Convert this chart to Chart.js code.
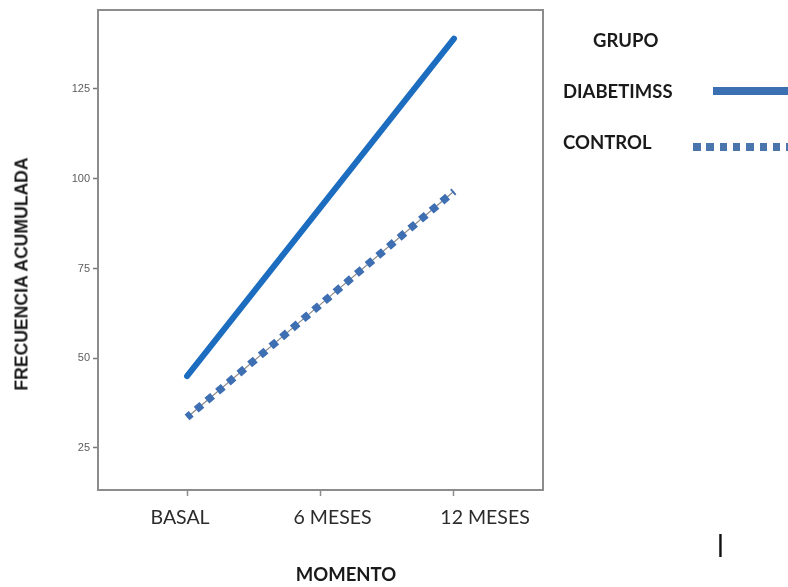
<!DOCTYPE html>
<html>
<head>
<meta charset="utf-8">
<script src="https://cdn.jsdelivr.net/npm/chart.js@4/dist/chart.umd.min.js"></script>
<style>
  html, body { margin: 0; padding: 0; background: #fff; }
  #wrap { position: relative; width: 788px; height: 587px; overflow: hidden; }
  canvas { position: absolute; left: 0; top: 0; }
  .txt { position: absolute; white-space: nowrap; color: #1a1a1a; }
  #ytitle { left: 22px; top: 274px; transform: translate(-50%, -50%) rotate(-90deg);
            font: bold 17.6px "Liberation Sans", Arial, sans-serif; }
  #xtitle { left: 346px; top: 574px; transform: translate(-50%, -50%);
            font: bold 18.5px Lato, "Open Sans", sans-serif; }
  .leg { font: bold 18.5px Lato, "Open Sans", sans-serif; transform: translateY(-50%); }
  #legSolid { position: absolute; left: 713px; top: 87px; width: 75px; height: 8px; background: #3b71b3; }
  #legDot { position: absolute; left: 693px; top: 143px; width: 95px; height: 8px;
            background: repeating-linear-gradient(90deg, #4a75ad 0 7.5px, transparent 7.5px 13.3px); }
  #mark { position: absolute; left: 717px; top: 530px; font: bold 24px "Liberation Sans", sans-serif; color: #111; transform: scaleX(0.8); }
</style>
</head>
<body>
<div id="wrap">
  <canvas id="c" width="788" height="587"></canvas>
  <div class="txt" id="ytitle">FRECUENCIA ACUMULADA</div>
  <div class="txt" id="xtitle">MOMENTO</div>
  <div class="txt leg" style="left:593px; top:40px;">GRUPO</div>
  <div class="txt leg" style="left:563px; top:91px;">DIABETIMSS</div>
  <div class="txt leg" style="left:563px; top:142px;">CONTROL</div>
  <div id="legSolid"></div>
  <div id="legDot"></div>
  <div id="mark">|</div>
</div>
<script>
const categories = ["BASAL", "6 MESES", "12 MESES"];
const diabetimss = [45, 92, 139];
const control = [33.5, 65, 96.5];
const yTicks = [25, 50, 75, 100, 125];

const toPoints = arr => arr.map((v, i) => ({ x: i, y: v }));

const framePlugin = {
  id: 'frame',
  afterDatasetsDraw(chart) {
    const { ctx, chartArea: a } = chart;
    ctx.save();
    ctx.strokeStyle = '#8c8c8c';
    ctx.lineWidth = 2;
    ctx.strokeRect(a.left, a.top, a.right - a.left, a.bottom - a.top);
    ctx.restore();
  }
};

new Chart(document.getElementById('c'), {
  type: 'line',
  data: {
    datasets: [
      {
        label: 'DIABETIMSS',
        data: toPoints(diabetimss),
        borderColor: '#1c6dc0',
        borderWidth: 6,
        borderCapStyle: 'round',
        pointRadius: 0,
        tension: 0,
        order: 0
      },
      {
        label: 'CONTROL',
        data: toPoints(control),
        borderColor: '#3f6fb3',
        borderWidth: 7.5,
        borderDash: [7.5, 6.5],
        borderDashOffset: 2,
        borderCapStyle: 'butt',
        pointRadius: 0,
        tension: 0,
        order: 1
      },
      {
        label: 'CONTROL (línea)',
        data: toPoints(control),
        borderColor: '#8a8a8a',
        borderWidth: 1.2,
        pointRadius: 0,
        tension: 0,
        order: 2
      }
    ]
  },
  options: {
    responsive: false,
    animation: false,
    layout: { padding: { top: 10, right: 245, left: 0, bottom: 0 } },
    plugins: { legend: { display: false }, tooltip: { enabled: false } },
    scales: {
      x: {
        type: 'linear',
        min: -0.667,
        max: 2.667,
        afterFit(s) { s.height = 8; },
        afterBuildTicks(s) { s.ticks = categories.map((c, i) => ({ value: i })); },
        ticks: { display: false },
        grid: { drawOnChartArea: false, tickLength: 6, tickColor: '#8c8c8c', tickWidth: 1.5 },
        border: { color: '#8c8c8c', width: 2 }
      },
      xLabels: {
        type: 'linear',
        position: 'bottom',
        min: -0.538,
        max: 2.380,
        afterFit(s) { s.height = 89; },
        afterBuildTicks(s) { s.ticks = categories.map((c, i) => ({ value: i })); },
        ticks: {
          callback: v => categories[v],
          font: { family: 'Lato, "Open Sans", sans-serif', size: 19.5 },
          color: '#2b2b2b',
          padding: 8,
          maxRotation: 0
        },
        grid: { display: false, drawTicks: false },
        border: { display: false }
      },
      y: {
        min: 13.3,
        max: 147,
        afterFit(s) { s.width = 98; },
        afterBuildTicks(s) { s.ticks = yTicks.map(v => ({ value: v })); },
        ticks: {
          font: { family: '"Liberation Sans", Arial, sans-serif', size: 11 },
          color: '#5c5c5c',
          padding: 3
        },
        grid: { drawOnChartArea: false, tickLength: 5, tickColor: '#777', tickWidth: 1.5 },
        border: { color: '#8c8c8c', width: 2 }
      }
    }
  },
  plugins: [framePlugin]
});
</script>
</body>
</html>
